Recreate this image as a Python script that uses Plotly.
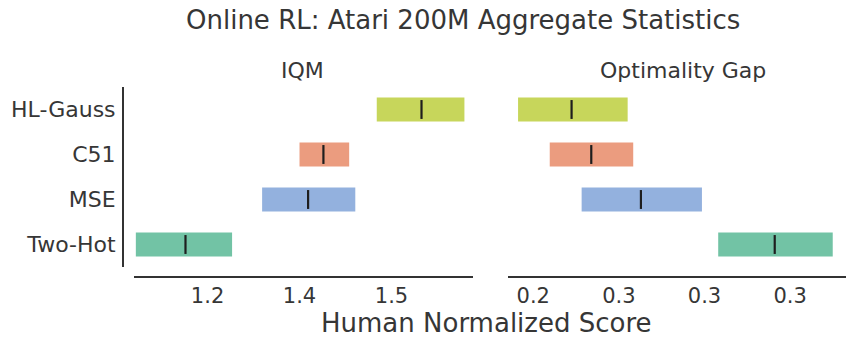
import plotly.graph_objects as go

# Methods from bottom to top of the chart
methods = ["Two-Hot", "MSE", "C51", "HL-Gauss"]
colors = ["#72c3a5", "#93b1de", "#eb9c7f", "#c7d65b"]

# IQM: confidence interval bounds and point estimate
iqm_low = [1.083, 1.289, 1.350, 1.476]
iqm_high = [1.240, 1.441, 1.431, 1.619]
iqm_point = [1.164, 1.364, 1.389, 1.549]

# Optimality gap: confidence interval bounds and point estimate
gap_low = [0.3064, 0.2426, 0.2277, 0.2129]
gap_high = [0.3599, 0.2988, 0.2667, 0.2641]
gap_point = [0.3328, 0.2703, 0.2471, 0.2379]

iqm_ticks = [1.2, 1.35, 1.5]
gap_ticks = [0.22, 0.26, 0.30, 0.34]

W, H = 846, 340
FONT = "DejaVu Sans"
TEXT = "#363636"
AXIS = "#333333"


def px_x(p):
    return p / W


def px_y(p):
    return (H - p) / H


fig = go.Figure()

panels = [
    ("x", "y", iqm_low, iqm_high, iqm_point),
    ("x2", "y2", gap_low, gap_high, gap_point),
]
for xa, ya, lo, hi, pt in panels:
    for m, c, l, h in zip(methods, colors, lo, hi):
        fig.add_trace(go.Bar(
            y=[m], x=[h - l], base=[l], orientation="h",
            marker=dict(color=c, line=dict(width=0)),
            width=0.53, showlegend=False, hoverinfo="skip",
            xaxis=xa, yaxis=ya,
        ))
    fig.add_trace(go.Scatter(
        x=pt, y=methods, mode="markers",
        marker=dict(symbol="line-ns", size=13.5,
                    line=dict(width=2.2, color="#1e1e1e")),
        showlegend=False, hoverinfo="skip",
        xaxis=xa, yaxis=ya,
    ))

axis_common = dict(
    showgrid=False, zeroline=False, showline=True,
    linecolor=AXIS, linewidth=2, ticks="",
    tickfont=dict(family=FONT, size=21, color=TEXT),
)

ydom = [px_y(267), px_y(87)]

fig.update_layout(
    width=W, height=H,
    margin=dict(l=0, r=0, t=0, b=0),
    paper_bgcolor="white", plot_bgcolor="white",
    barmode="overlay",
    font=dict(family=FONT, color=TEXT),
    xaxis=dict(
        domain=[px_x(134), px_x(473)], range=[1.080, 1.633],
        anchor="free", position=px_y(277),
        tickvals=iqm_ticks, ticktext=[f"{v:.1f}" for v in iqm_ticks],
        ticklabelstandoff=0,
        **axis_common,
    ),
    xaxis2=dict(
        domain=[px_x(508), 1.0], range=[0.2082, 0.3661],
        anchor="free", position=px_y(277),
        tickvals=gap_ticks, ticktext=[f"{v:.1f}" for v in gap_ticks],
        ticklabelstandoff=0,
        **axis_common,
    ),
    yaxis=dict(
        type="category", categoryorder="array", categoryarray=methods,
        range=[-0.5, 3.5], domain=ydom,
        anchor="free", position=px_x(123),
        ticklabelstandoff=2,
        **{**axis_common, "tickfont": dict(family=FONT, size=22, color=TEXT)},
    ),
    yaxis2=dict(
        type="category", categoryorder="array", categoryarray=methods,
        range=[-0.5, 3.5], domain=ydom, anchor="x2",
        visible=False, showgrid=False, zeroline=False,
    ),
    annotations=[
        dict(text="Online RL: Atari 200M Aggregate Statistics",
             x=px_x(463), y=px_y(20), xref="paper", yref="paper",
             xanchor="center", yanchor="middle", showarrow=False,
             font=dict(family=FONT, size=26, color=TEXT)),
        dict(text="IQM",
             x=px_x(302), y=px_y(70), xref="paper", yref="paper",
             xanchor="center", yanchor="middle", showarrow=False,
             font=dict(family=FONT, size=22, color=TEXT)),
        dict(text="Optimality Gap",
             x=px_x(683), y=px_y(70), xref="paper", yref="paper",
             xanchor="center", yanchor="middle", showarrow=False,
             font=dict(family=FONT, size=22, color=TEXT)),
        dict(text="Human Normalized Score",
             x=px_x(486), y=0, xref="paper", yref="paper",
             xanchor="center", yanchor="bottom", showarrow=False,
             font=dict(family=FONT, size=26, color=TEXT)),
    ],
)

fig.write_html("out.html")
